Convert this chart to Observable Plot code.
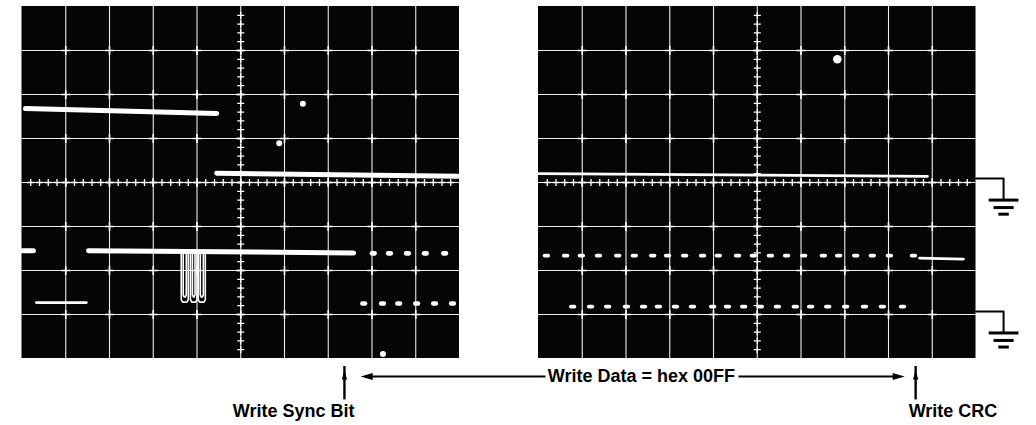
<!DOCTYPE html>
<html>
<head>
<meta charset="utf-8">
<script src="https://cdn.jsdelivr.net/npm/d3@7"></script>
<script src="https://cdn.jsdelivr.net/npm/@observablehq/plot@0.6"></script>
<style>
  html, body { margin: 0; padding: 0; background: #fff; }
  #chart svg { display: block; }
</style>
</head>
<body>
<div id="chart"></div>
<script>
// ---------------- DATA (oscilloscope graticule divisions: x 0..10, y -4..+4 about the centre line) -------------
const scopes = ["left", "right"];
const majorX = [1, 2, 3, 4, 5, 6, 7, 8, 9];
const majorY = [-3, -2, -1, 0, 1, 2, 3];

// left screen
const leftUpperTrace = [[0.08, 1.68], [4.45, 1.57]];
const leftMidTrace = [[4.45, 0.21], [9.97, 0.14]];
const leftDataStub = [[0.01, -1.55], [0.26, -1.55]];
const leftDataTrace = [[1.52, -1.55], [7.58, -1.6]];
const leftPulses = [[3.64, 3.80], [3.85, 4.00], [4.03, 4.19]];
const leftPulseBottom = -2.72;
const leftLowStub = [[0.33, -2.73], [1.47, -2.73]];
const leftDotsUpper = [8.03, 8.40, 8.81, 9.22, 9.66];
const leftDotsUpperY = -1.61;
const leftDotsLower = [7.81, 8.24, 8.61, 9.02, 9.43, 9.84];
const leftDotsLowerY = -2.75;
const leftSpecks = [[6.42, 1.79], [5.88, 0.89], [8.25, -3.9]];

// right screen
const rightUpperTrace = [[0, 0.2], [8.89, 0.14]];
const rightDotsUpper = [0.18, 0.62, 0.98, 1.37, 1.81, 2.19, 2.61, 2.95, 3.34, 3.75, 4.11, 4.55, 4.91, 5.30, 5.67, 6.06, 6.51, 6.86, 7.25, 7.63, 8.02, 8.57];
const rightDotsUpperY = -1.66;
const rightTail = [[8.71, -1.72], [9.71, -1.74]];
const rightDotsLower = [0.78, 1.19, 1.58, 2.01, 2.40, 2.74, 3.13, 3.52, 3.98, 4.32, 4.69, 5.07, 5.46, 5.87, 6.22, 6.61, 7.02, 7.45, 7.86, 8.32];
const rightDotsLowerY = -2.82;
const rightBlip = [[6.83, 2.80]];
const groundLevels = [0.09, -2.93];

// annotations (screen, division)
const labelSync = "Write Sync Bit";
const labelData = "Write Data = hex 00FF";
const labelCrc = "Write CRC";
const syncMark = ["left", 7.37];
const crcMark = ["right", 8.62];
const dataSpan = [["left", 7.74], ["right", 8.37]];
const dataTextGap = [["right", 0.16], ["right", 4.57]];
const dataTextAt = ["right", 2.35];
const syncTextAt = ["left", 6.21];
const crcTextAt = ["right", 8.46];
const markTop = -4.27, markBottom = -4.93, dataLineY = -4.41, labelY = -5.2;

// ---------------- LAYOUT ----------------
const W = 1036, H = 425;
const off = {left: 0, right: 11.806};
const gx = (s, x) => off[s] + x;

const rec = (id, scope, pts) => pts.map(([x, y]) => ({id, scope, x, y}));

const grid = scopes.flatMap(s => majorX.map(x => ({scope: s, x})));
const gridH = scopes.flatMap(s => majorY.map(y => ({scope: s, y})));
const crosses = scopes.flatMap(s => majorX.flatMap(x => majorY.map(y => ({scope: s, x, y}))));
const minorH = scopes.flatMap(s => d3.range(1, 50).map(i => ({scope: s, x: i / 5, y: 0})));
const minorV = scopes.flatMap(s => d3.range(1, 40).map(i => ({scope: s, x: 5, y: -4 + i / 5})));

const thick = [
  ...rec("a", "left", leftUpperTrace),
  ...rec("b", "left", leftMidTrace),
  ...rec("c1", "left", leftDataStub),
  ...rec("c2", "left", leftDataTrace)
];
const thin = [
  ...rec("d", "left", leftLowStub),
  ...rec("e", "right", rightUpperTrace),
  ...rec("f", "right", rightTail)
];
const pulsePaths = leftPulses.flatMap(([a, b], i) => {
  const outer = [[a, -1.55], [a, leftPulseBottom + 0.06], [a + 0.03, leftPulseBottom], [b - 0.03, leftPulseBottom], [b, leftPulseBottom + 0.06], [b, -1.55]];
  const ia = a + 0.045, ib = b - 0.045, ibot = leftPulseBottom + 0.12;
  const inner = [[ia, -1.6], [ia, ibot + 0.05], [ia + 0.02, ibot], [ib - 0.02, ibot], [ib, ibot + 0.05], [ib, -1.6]];
  return [...rec("po" + i, "left", outer), ...rec("pi" + i, "left", inner)];
});

const dotsBig = [
  ...leftDotsUpper.map(x => ({scope: "left", x, y: leftDotsUpperY})),
  ...leftDotsLower.map(x => ({scope: "left", x, y: leftDotsLowerY}))
];
const dotsSmall = [
  ...rightDotsUpper.map(x => ({scope: "right", x, y: rightDotsUpperY})),
  ...rightDotsLower.map(x => ({scope: "right", x, y: rightDotsLowerY}))
];
const specks = [
  ...leftSpecks.map(([x, y]) => ({scope: "left", x, y, r: 1.3})),
  ...rightBlip.map(([x, y]) => ({scope: "right", x, y, r: 2.6}))
];

// ground symbols
const gEnd = 10.63;
const groundWires = groundLevels.flatMap((g, i) => rec("g" + i, "right", [[10, g], [gEnd, g], [gEnd, g - 0.48]]));
const groundBars = groundLevels.flatMap(g => [
  {x1: gEnd - 0.34, x2: gEnd + 0.34, y: g - 0.49},
  {x1: gEnd - 0.23, x2: gEnd + 0.23, y: g - 0.66},
  {x1: gEnd - 0.12, x2: gEnd + 0.12, y: g - 0.81}
]);

// arrow shafts
const shafts = [
  {x1: gx(...syncMark), x2: gx(...syncMark), y1: markBottom, y2: markTop + 0.1, w: 2.4},
  {x1: gx(...crcMark), x2: gx(...crcMark), y1: markBottom, y2: markTop + 0.1, w: 2.4},
  {x1: gx(...dataSpan[0]) + 0.15, x2: gx(...dataTextGap[0]), y1: dataLineY, y2: dataLineY, w: 2},
  {x1: gx(...dataTextGap[1]), x2: gx(...dataSpan[1]) - 0.15, y1: dataLineY, y2: dataLineY, w: 2}
];
const headsV = [
  {x: gx(...syncMark), y: markTop, rot: 0},
  {x: gx(...crcMark), y: markTop, rot: 0}
];
const headsH = [
  {x: gx(...dataSpan[0]), y: dataLineY, rot: -90},
  {x: gx(...dataSpan[1]), y: dataLineY, rot: 90}
];
const headSym = {
  draw(ctx, size) {
    const s = Math.sqrt(size / Math.PI);
    ctx.moveTo(0, 0);
    ctx.lineTo(0.8 * s, 2.8 * s);
    ctx.lineTo(-0.8 * s, 2.8 * s);
    ctx.closePath();
  }
};

const font = "'Liberation Sans', Arial, Helvetica, sans-serif";
const XX = d => gx(d.scope, d.x);

const chart = Plot.plot({
  width: W,
  height: H,
  margin: 0,
  style: {background: "#fff"},
  x: {domain: [-21.5 / 43.75, (W - 21.5) / 43.75], range: [0, W], axis: null},
  y: {domain: [-5.523, 4.136], range: [H, 0], axis: null},
  marks: [
    // screens
    Plot.rect(scopes, {x1: s => off[s], x2: s => off[s] + 10, y1: -4, y2: 4, fill: "#050505"}),
    // graticule
    Plot.ruleX(grid, {x: XX, y1: -4, y2: 4, stroke: "#ececec", strokeWidth: 1.1, strokeDasharray: d => d.x === 5 ? null : "6,1.5"}),
    Plot.ruleY(gridH, {y: "y", x1: d => off[d.scope], x2: d => off[d.scope] + 10, stroke: "#ececec", strokeWidth: 1.1, strokeDasharray: d => d.y === 0 ? null : "6,1.5"}),
    Plot.dot(crosses, {x: XX, y: "y", symbol: "plus", r: 3, stroke: "#fff", strokeWidth: 1.6}),
    Plot.dot(minorH, {x: XX, y: "y", symbol: "plus", r: 2.4, stroke: "#fff", strokeWidth: 1.3}),
    Plot.dot(minorV, {x: XX, y: "y", symbol: "plus", r: 2.4, stroke: "#fff", strokeWidth: 1.3}),
    // traces
    Plot.line(thick, {x: XX, y: "y", z: "id", stroke: "#fff", strokeWidth: 5, strokeLinecap: "round"}),
    Plot.line(thin, {x: XX, y: "y", z: "id", stroke: "#fff", strokeWidth: 2.8, strokeLinecap: "round"}),
    Plot.line(pulsePaths, {x: XX, y: "y", z: "id", stroke: "#fff", strokeWidth: 1.6}),
    Plot.link(dotsBig, {x1: d => XX(d) - 0.03, x2: d => XX(d) + 0.03, y1: "y", y2: "y", stroke: "#fff", strokeWidth: 4.6, strokeLinecap: "round"}),
    Plot.link(dotsSmall, {x1: d => XX(d) - 0.04, x2: d => XX(d) + 0.04, y1: "y", y2: "y", stroke: "#fff", strokeWidth: 3.8, strokeLinecap: "round"}),
    Plot.dot(specks, {x: XX, y: "y", r: "r", fill: "#fff"}),
    // ground symbols
    Plot.line(groundWires, {x: XX, y: "y", z: "id", stroke: "#000", strokeWidth: 2}),
    Plot.link(groundBars, {x1: d => gx("right", d.x1), x2: d => gx("right", d.x2), y1: "y", y2: "y", stroke: "#000", strokeWidth: 3}),
    // annotation arrows
    Plot.link(shafts, {x1: "x1", x2: "x2", y1: "y1", y2: "y2", stroke: "#000", strokeWidth: d => d.w}),
    Plot.dot(headsV, {x: "x", y: "y", rotate: "rot", symbol: headSym, r: 3.3, fill: "#000", stroke: null}),
    Plot.dot(headsH, {x: "x", y: "y", rotate: "rot", symbol: headSym, r: 4.3, fill: "#000", stroke: null}),
    // labels
    Plot.text([labelSync], {x: () => gx(...syncTextAt), y: () => labelY, text: d => d, textAnchor: "middle", fontSize: 18, fontWeight: "bold", fontFamily: font, fill: "#000"}),
    Plot.text([labelData], {x: () => gx(...dataTextAt), y: () => dataLineY, text: d => d, textAnchor: "middle", fontSize: 18, fontWeight: "bold", fontFamily: font, fill: "#000"}),
    Plot.text([labelCrc], {x: () => gx(...crcTextAt), y: () => labelY, text: d => d, textAnchor: "start", fontSize: 18, fontWeight: "bold", fontFamily: font, fill: "#000"})
  ]
});
document.getElementById("chart").appendChild(chart);
</script>
</body>
</html>
